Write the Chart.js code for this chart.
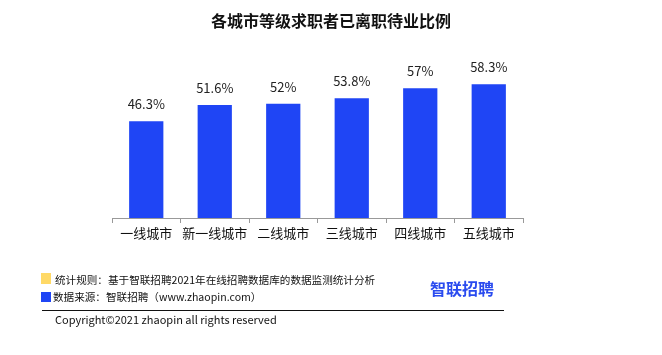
<!DOCTYPE html>
<html><head><meta charset="utf-8">
<script src="https://cdn.jsdelivr.net/npm/chart.js@4/dist/chart.umd.min.js"></script>
<style>
html,body{margin:0;padding:0;background:#fff;}
#wrap{position:relative;width:662px;height:355px;overflow:hidden;font-family:"Noto Sans CJK SC","Noto Sans",sans-serif;color:#111;}
#c{position:absolute;left:0;top:0;}
.t{position:absolute;white-space:nowrap;line-height:1;}
</style></head>
<body><div id="wrap">
<canvas id="c" width="662" height="355"></canvas>
<div class="t" id="title" style="left:0;width:662px;text-align:center;top:12px;font-size:16px;font-weight:bold;">各城市等级求职者已离职待业比例</div>
<div style="position:absolute;left:41px;top:273px;width:10px;height:11px;background:#FFD966;"></div>
<div class="t" style="left:55px;top:275px;font-size:10.6px;">统计规则：基于智联招聘2021年在线招聘数据库的数据监测统计分析</div>
<div style="position:absolute;left:41px;top:292px;width:10px;height:10px;background:#1F45F5;"></div>
<div class="t" style="left:53px;top:292px;font-size:10.6px;">数据来源：智联招聘（www.zhaopin.com）</div>
<div style="position:absolute;left:42px;top:310px;width:462px;height:1px;background:#111;"></div>
<div class="t" style="left:55px;top:314px;font-size:11px;">Copyright©2021 zhaopin all rights reserved</div>
<div class="t" style="left:430px;top:280px;font-size:16px;font-weight:bold;color:#2A4BEF;">智联招聘</div>
</div>
<script>
const categories = ["一线城市","新一线城市","二线城市","三线城市","四线城市","五线城市"];
const values = [46.3, 51.6, 52, 53.8, 57, 58.3];
const valueLabels = ["46.3%","51.6%","52%","53.8%","57%","58.3%"];

const labelPlugin = {
  id: 'vlabels',
  afterDatasetsDraw(chart) {
    const ctx = chart.ctx;
    const meta = chart.getDatasetMeta(0);
    ctx.save();
    ctx.font = '13px "Noto Sans CJK SC", "Noto Sans", sans-serif';
    ctx.fillStyle = '#222';
    ctx.textAlign = 'center';
    ctx.textBaseline = 'middle';
    meta.data.forEach((bar, i) => {
      ctx.fillText(valueLabels[i], bar.x, bar.y - 17);
    });
    ctx.restore();
  }
};

new Chart(document.getElementById('c'), {
  type: 'bar',
  data: {
    labels: categories,
    datasets: [{
      data: values,
      backgroundColor: '#1F45F5',
      categoryPercentage: 1,
      barPercentage: 0.5
    }]
  },
  options: {
    responsive: false,
    animation: false,
    devicePixelRatio: 1,
    layout: { padding: { left: 112, right: 139, top: 79, bottom: 107 } },
    plugins: { legend: { display: false }, tooltip: { enabled: false }, title: { display: false } },
    scales: {
      x: {
        afterFit(s) { s.height = 30; },
        grid: { drawOnChartArea: false, drawTicks: true, tickLength: 5, color: '#999', offset: true },
        border: { display: true, color: '#999' },
        ticks: { color: '#111', padding: 2, maxRotation: 0, minRotation: 0, autoSkip: false, font: { size: 13, family: '"Noto Sans CJK SC", sans-serif' } }
      },
      y: {
        display: false,
        min: 15,
        max: 60
      }
    }
  },
  plugins: [labelPlugin]
});
</script>
</body></html>
